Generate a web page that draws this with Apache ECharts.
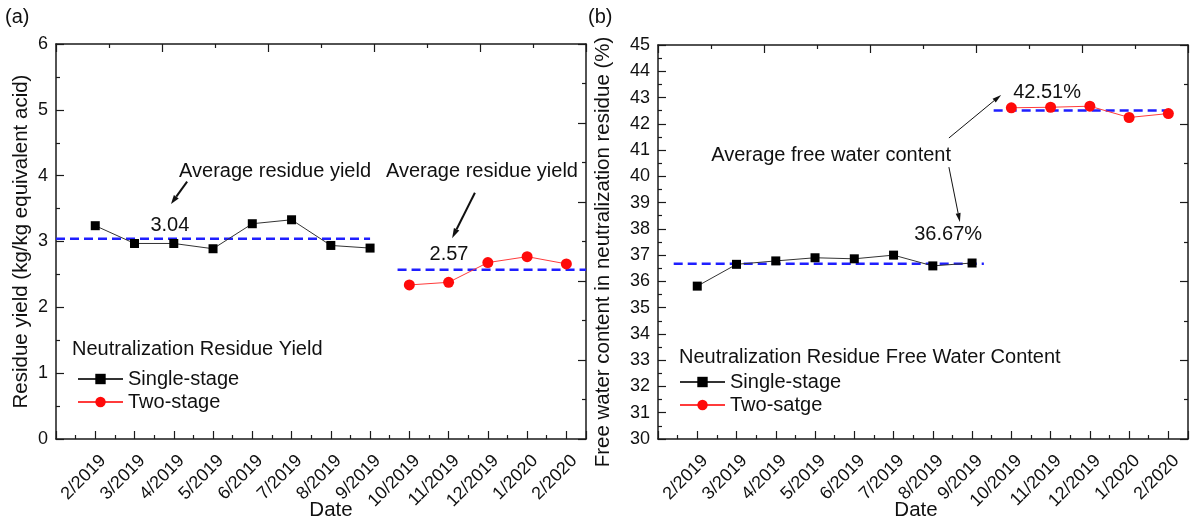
<!DOCTYPE html>
<html>
<head>
<meta charset="utf-8">
<script src="https://cdn.jsdelivr.net/npm/echarts@6/dist/echarts.min.js"></script>
<style>
  html, body { margin: 0; padding: 0; background: #fff; }
  #chart { width: 1192px; height: 517px; }
</style>
</head>
<body>
<div id="chart"></div>
<script>
// Sampling months (x tick labels, positions 1..13)
const months = ['2/2019', '3/2019', '4/2019', '5/2019', '6/2019', '7/2019', '8/2019',
  '9/2019', '10/2019', '11/2019', '12/2019', '1/2020', '2/2020'];

// (a) residue yield, kg/kg equivalent acid
const yieldSingle = [3.24, 2.97, 2.97, 2.89, 3.27, 3.33, 2.94, 2.90];   // 2/2019 - 9/2019
const yieldTwo = [2.34, 2.38, 2.68, 2.77, 2.66];                         // 10/2019 - 2/2020
const yieldAvg = [3.04, 2.57];

// (b) free water content, %
const waterSingle = [35.82, 36.65, 36.78, 36.90, 36.86, 37.00, 36.59, 36.70];
const waterTwo = [42.61, 42.63, 42.67, 42.24, 42.39];
const waterAvg = [36.67, 42.51];

const FONT = '"Liberation Sans", Arial, sans-serif';
const INK = '#111';
const AXIS_COLOR = '#1a1a1a';

const singleFirst = 1;                             // x position of 2/2019
const twoFirst = singleFirst + yieldSingle.length; // x position of 10/2019
const monthPos = months.map((_, i) => i + 1);

const toPairs = (vals, start) => vals.map((v, i) => [start + i, v]);

function bottomAxis(gridIndex, namePadding) {
  return {
    type: 'value', gridIndex, position: 'bottom',
    min: 0, max: 13.5, interval: 1,
    axisLine: { show: true, onZero: false, lineStyle: { color: AXIS_COLOR, width: 1.5 } },
    axisTick: { show: true, inside: true, length: 8, lineStyle: { color: AXIS_COLOR, width: 1.2 } },
    minorTick: { show: true, splitNumber: 2, length: 4, lineStyle: { color: AXIS_COLOR, width: 1.2 } },
    splitLine: { show: false },
    axisLabel: { show: false },
    name: 'Date', nameLocation: 'middle', nameGap: 61,
    nameTextStyle: { fontSize: 20.5, color: INK, fontFamily: FONT, padding: namePadding }
  };
}

// Month labels, set slightly to the right of their ticks (slanted text ends past the tick)
function labelAxis(gridIndex) {
  return {
    type: 'value', gridIndex, position: 'bottom',
    min: -0.2, max: 13.3,
    axisLine: { show: false, onZero: false },
    axisTick: { show: false },
    splitLine: { show: false },
    axisLabel: {
      customValues: monthPos,
      rotate: 45, margin: 19, fontSize: 18, color: INK, fontFamily: FONT,
      formatter: v => months[Math.round(v) - 1] || ''
    }
  };
}

// Mirror axes on the top / right edges: ticks only
function mirrorAxis(gridIndex, position) {
  return {
    type: 'value', gridIndex, position,
    min: 0, max: 10, interval: 2,
    axisLine: { show: true, onZero: false, lineStyle: { color: AXIS_COLOR, width: 1.5 } },
    axisTick: { show: true, inside: true, length: 8, lineStyle: { color: AXIS_COLOR, width: 1.2 } },
    minorTick: { show: true, splitNumber: 2, length: 4, lineStyle: { color: AXIS_COLOR, width: 1.2 } },
    splitLine: { show: false },
    axisLabel: { show: false }
  };
}

function leftAxis(gridIndex, min, max, name, gap, padding) {
  return {
    type: 'value', gridIndex, position: 'left',
    min, max, interval: 1,
    axisLine: { show: true, onZero: false, lineStyle: { color: AXIS_COLOR, width: 1.5 } },
    axisTick: { show: true, inside: true, length: 8, lineStyle: { color: AXIS_COLOR, width: 1.2 } },
    minorTick: { show: true, splitNumber: 2, length: 4, lineStyle: { color: AXIS_COLOR, width: 1.2 } },
    splitLine: { show: false },
    axisLabel: { fontSize: 18, color: INK, fontFamily: FONT, margin: 8 },
    name, nameLocation: 'middle', nameGap: gap,
    nameTextStyle: { fontSize: 20.5, color: INK, fontFamily: FONT, padding }
  };
}

const singleStyle = {
  symbol: 'rect', symbolSize: 9,
  itemStyle: { color: '#000' },
  lineStyle: { color: '#333', width: 1 }
};
const twoStyle = {
  symbol: 'circle', symbolSize: 11,
  itemStyle: { color: '#ff0a0a' },
  lineStyle: { color: '#ff3b3b', width: 1 }
};
const avgStyle = {
  symbol: 'none', silent: true, z: 1,
  lineStyle: { color: '#1f1fff', width: 2.5, type: [9, 5] }
};

const legendBase = {
  orient: 'vertical',
  itemWidth: 45, itemHeight: 13, itemGap: 3,
  textStyle: { fontSize: 20, color: INK, fontFamily: FONT },
  selectedMode: false
};

const chart = echarts.init(document.getElementById('chart'), null, { renderer: 'canvas' });

chart.setOption({
  animation: false,
  backgroundColor: '#fff',
  grid: [
    { left: 56, top: 44, width: 530, height: 395, outerBoundsMode: 'none', containLabel: false },
    { left: 658, top: 45, width: 530, height: 394, outerBoundsMode: 'none', containLabel: false }
  ],
  xAxis: [
    bottomAxis(0, [0, 0, 0, 20]), mirrorAxis(0, 'top'),
    bottomAxis(1, [0, 14, 0, 0]), mirrorAxis(1, 'top'),
    labelAxis(0), labelAxis(1)
  ],
  yAxis: [
    leftAxis(0, 0, 6, 'Residue yield (kg/kg equivalent acid)', 24, [0, 0, 0, 0]),
    mirrorAxis(0, 'right'),
    leftAxis(1, 30, 45, 'Free water content in neutralization residue (%)', 44, [0, 20, 0, 0]),
    mirrorAxis(1, 'right')
  ],
  legend: [
    Object.assign({ data: ['Single-stage', 'Two-stage'], left: 72, top: 364 }, legendBase),
    Object.assign({ data: ['Single-stage', 'Two-satge'], left: 674, top: 367 }, legendBase)
  ],
  series: [
    // (a)
    Object.assign({ type: 'line', name: 'Single-stage', xAxisIndex: 0, yAxisIndex: 0,
      data: toPairs(yieldSingle, singleFirst), z: 3 }, singleStyle),
    Object.assign({ type: 'line', name: 'Two-stage', xAxisIndex: 0, yAxisIndex: 0,
      data: toPairs(yieldTwo, twoFirst), z: 3 }, twoStyle),
    Object.assign({ type: 'line', name: 'avg-a1', xAxisIndex: 0, yAxisIndex: 0,
      data: [[0, yieldAvg[0]], [8, yieldAvg[0]]] }, avgStyle),
    Object.assign({ type: 'line', name: 'avg-a2', xAxisIndex: 0, yAxisIndex: 0,
      data: [[8.7, yieldAvg[1]], [13.5, yieldAvg[1]]] }, avgStyle),
    // (b)
    Object.assign({ type: 'line', name: 'Single-stage', xAxisIndex: 2, yAxisIndex: 2,
      data: toPairs(waterSingle, singleFirst), z: 3 }, singleStyle),
    Object.assign({ type: 'line', name: 'Two-satge', xAxisIndex: 2, yAxisIndex: 2,
      data: toPairs(waterTwo, twoFirst), z: 3 }, twoStyle),
    Object.assign({ type: 'line', name: 'avg-b1', xAxisIndex: 2, yAxisIndex: 2,
      data: [[0.4, waterAvg[0]], [8.3, waterAvg[0]]] }, avgStyle),
    Object.assign({ type: 'line', name: 'avg-b2', xAxisIndex: 2, yAxisIndex: 2,
      data: [[8.55, waterAvg[1]], [13, waterAvg[1]]] }, avgStyle)
  ]
});

// ---- annotations, anchored in data coordinates of each grid ----
const px = (g, x, y) => chart.convertToPixel({ gridIndex: g }, [x, y]);

function label(text, p, opts) {
  return {
    type: 'text', x: p[0], y: p[1], z: 10,
    style: Object.assign({
      text, fontSize: 20, fontFamily: FONT, fill: INK,
      align: 'center', verticalAlign: 'middle'
    }, opts || {})
  };
}

function arrow(p1, p2, width, headLen, headW) {
  const dx = p2[0] - p1[0], dy = p2[1] - p1[1];
  const len = Math.hypot(dx, dy);
  const ux = dx / len, uy = dy / len;
  const bx = p2[0] - ux * headLen, by = p2[1] - uy * headLen;
  return {
    type: 'group', z: 10,
    children: [
      { type: 'line', shape: { x1: p1[0], y1: p1[1], x2: bx, y2: by },
        style: { stroke: INK, lineWidth: width } },
      { type: 'polygon', shape: { points: [
          [p2[0], p2[1]],
          [bx - uy * headW / 2, by + ux * headW / 2],
          [bx + uy * headW / 2, by - ux * headW / 2]
        ] }, style: { fill: INK } }
    ]
  };
}

const graphics = [
  label('(a)', [5, 17], { align: 'left' }),
  label('(b)', [588, 17], { align: 'left' }),
  label('Neutralization Residue Yield', [72, 349], { align: 'left' }),
  label('Neutralization Residue Free Water Content', [679, 357], { align: 'left' }),

  // (a) averages
  label('Average residue yield', px(0, 5.58, 4.06)),
  arrow(px(0, 3.34, 3.91), px(0, 2.93, 3.57), 2, 9, 6),
  label(yieldAvg[0].toFixed(2), px(0, 2.90, 3.25)),
  label('Average residue yield', px(0, 10.85, 4.06)),
  arrow(px(0, 10.67, 3.74), px(0, 10.09, 3.05), 2, 10, 6),
  label(yieldAvg[1].toFixed(2), px(0, 10.01, 2.80)),

  // (b) averages
  label('Average free water content', px(1, 4.41, 40.81)),
  arrow(px(1, 7.41, 41.46), px(1, 8.74, 43.10), 1, 9, 5),
  arrow(px(1, 7.41, 40.35), px(1, 7.69, 38.26), 1, 9, 5),
  label(waterAvg[1].toFixed(2) + '%', px(1, 9.91, 43.21)),
  label(waterAvg[0].toFixed(2) + '%', px(1, 7.39, 37.80))
];

chart.setOption({ graphic: graphics });
</script>
</body>
</html>
